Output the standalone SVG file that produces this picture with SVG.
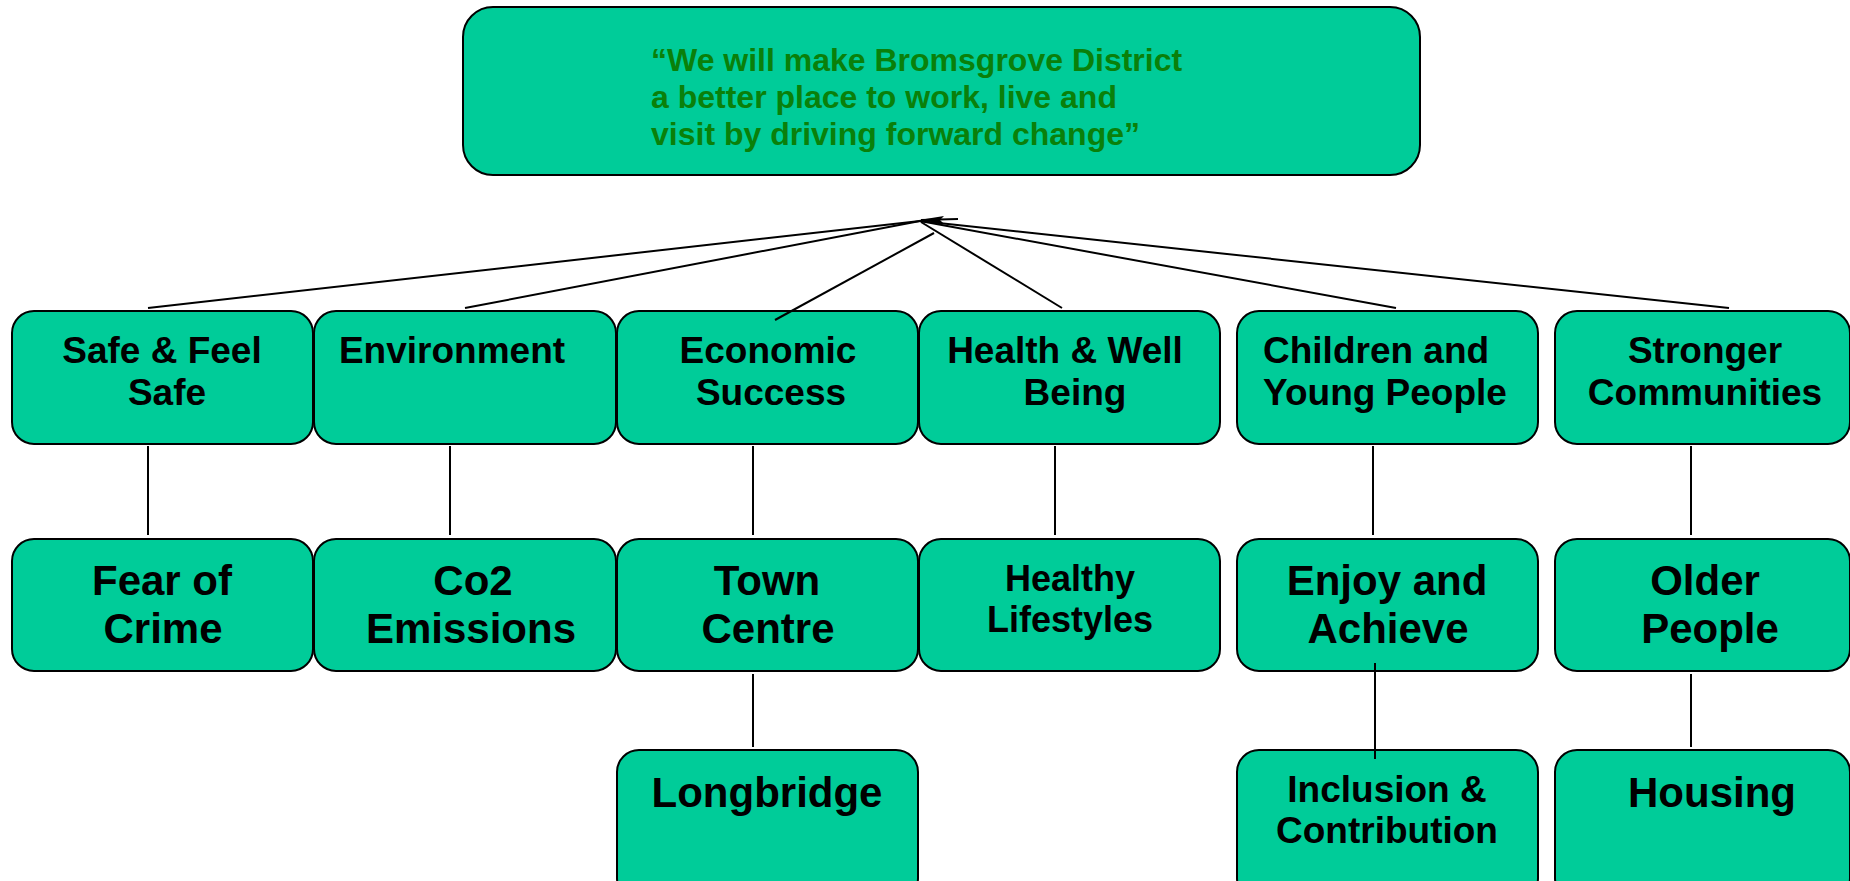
<svg xmlns="http://www.w3.org/2000/svg" width="1850" height="881" viewBox="0 0 1850 881">
<style>
.box{fill:#00CC99;stroke:#000;stroke-width:2}
.t{font-family:"Liberation Sans",Arial,sans-serif;font-weight:bold;fill:#000;text-anchor:middle}
.s36{font-size:36px}
.s37{font-size:37px}
.s42{font-size:42px}
.vis{font-family:"Liberation Sans",Arial,sans-serif;font-weight:bold;font-size:32px;fill:#0A800A}
.c{stroke:#000;stroke-width:2;fill:none}
</style>
<rect width="1850" height="881" fill="#fff"/>
<g id="vision">
<rect class="box" x="463" y="7" width="957" height="168" rx="30"/>
<text class="vis" x="651" y="71">“We will make Bromsgrove District</text>
<text class="vis" x="651" y="108">a better place to work, live and</text>
<text class="vis" x="651" y="145">visit by driving forward change”</text>
</g>
<g id="safe">
<rect class="box" x="12" y="311" width="301" height="133" rx="22"/>
<text class="t s37" x="162" y="363">Safe &amp; Feel</text>
<text class="t s37" x="167" y="405">Safe</text>
</g>
<g id="environment">
<rect class="box" x="314" y="311" width="302" height="133" rx="22"/>
<text class="t s37" x="452" y="363">Environment</text>
</g>
<g id="economic">
<rect class="box" x="617" y="311" width="301" height="133" rx="22"/>
<text class="t s37" x="768" y="363">Economic</text>
<text class="t s37" x="771" y="405">Success</text>
</g>
<g id="health">
<rect class="box" x="919" y="311" width="301" height="133" rx="22"/>
<text class="t s37" x="1065" y="363">Health &amp; Well</text>
<text class="t s37" x="1075" y="405">Being</text>
</g>
<g id="children">
<rect class="box" x="1237" y="311" width="301" height="133" rx="22"/>
<text class="t s37" x="1263" y="363" style="text-anchor:start">Children and</text>
<text class="t s37" x="1263" y="405" style="text-anchor:start">Young People</text>
</g>
<g id="stronger">
<rect class="box" x="1555" y="311" width="295" height="133" rx="22"/>
<text class="t s37" x="1705" y="363">Stronger</text>
<text class="t s37" x="1705" y="405">Communities</text>
</g>
<g id="fear">
<rect class="box" x="12" y="539" width="301" height="132" rx="22"/>
<text class="t s42" x="162" y="595">Fear of</text>
<text class="t s42" x="163" y="643">Crime</text>
</g>
<g id="co2">
<rect class="box" x="314" y="539" width="302" height="132" rx="22"/>
<text class="t s42" x="473" y="595">Co2</text>
<text class="t s42" x="471" y="643">Emissions</text>
</g>
<g id="town">
<rect class="box" x="617" y="539" width="301" height="132" rx="22"/>
<text class="t s42" x="767" y="595">Town</text>
<text class="t s42" x="768" y="643">Centre</text>
</g>
<g id="healthy">
<rect class="box" x="919" y="539" width="301" height="132" rx="22"/>
<text class="t s36" x="1070" y="591">Healthy</text>
<text class="t s36" x="1070" y="632">Lifestyles</text>
</g>
<g id="enjoy">
<rect class="box" x="1237" y="539" width="301" height="132" rx="22"/>
<text class="t s42" x="1387" y="595">Enjoy and</text>
<text class="t s42" x="1388" y="643">Achieve</text>
</g>
<g id="older">
<rect class="box" x="1555" y="539" width="295" height="132" rx="22"/>
<text class="t s42" x="1705" y="595">Older</text>
<text class="t s42" x="1710" y="643">People</text>
</g>
<g id="longbridge">
<rect class="box" x="617" y="750" width="301" height="150" rx="22"/>
<text class="t s42" x="767" y="807">Longbridge</text>
</g>
<g id="inclusion">
<rect class="box" x="1237" y="750" width="301" height="150" rx="22"/>
<text class="t s37" x="1387" y="802">Inclusion &amp;</text>
<text class="t s37" x="1387" y="843">Contribution</text>
</g>
<g id="housing">
<rect class="box" x="1555" y="750" width="295" height="150" rx="22"/>
<text class="t s42" x="1712" y="807">Housing</text>
</g>
<g id="connectors">
<line class="c" x1="148" y1="308" x2="920" y2="221"/>
<line class="c" x1="465" y1="308" x2="920" y2="221"/>
<line class="c" x1="775" y1="320" x2="934" y2="233"/>
<line class="c" x1="1062" y1="308" x2="921" y2="222"/>
<line class="c" x1="1396" y1="308" x2="920" y2="221"/>
<line class="c" x1="1729" y1="308" x2="920" y2="221"/>
<line class="c" x1="958" y1="219" x2="921" y2="220"/>
<polygon points="919,220 944,216 940,220 944,224" fill="#000"/>
<line class="c" x1="148" y1="446" x2="148" y2="535"/>
<line class="c" x1="450" y1="446" x2="450" y2="535"/>
<line class="c" x1="753" y1="446" x2="753" y2="535"/>
<line class="c" x1="1055" y1="446" x2="1055" y2="535"/>
<line class="c" x1="1373" y1="446" x2="1373" y2="535"/>
<line class="c" x1="1691" y1="446" x2="1691" y2="535"/>
<line class="c" x1="753" y1="674" x2="753" y2="747"/>
<line class="c" x1="1691" y1="674" x2="1691" y2="747"/>
<line class="c" x1="1375" y1="663" x2="1375" y2="759"/>
</g>
</svg>
